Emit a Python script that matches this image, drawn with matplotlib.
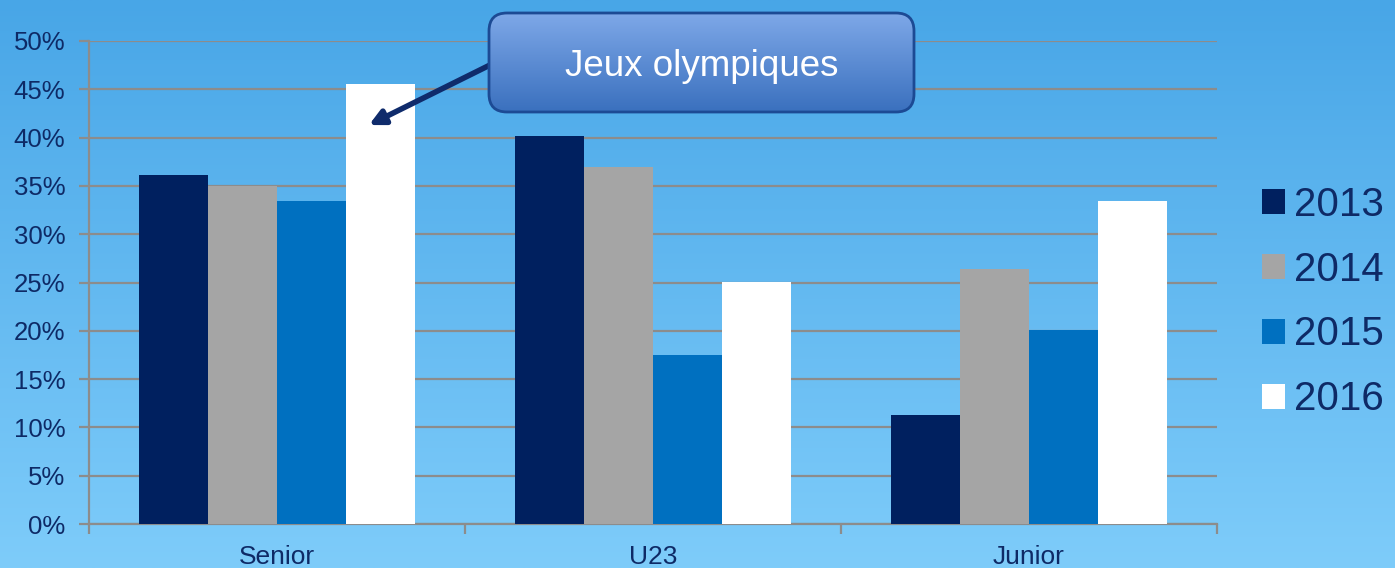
import matplotlib.pyplot as plt
import numpy as np
from matplotlib.patches import Patch, FancyBboxPatch

plt.rcParams['font.family'] = ['Liberation Sans', 'DejaVu Sans']

categories = ["Senior", "U23", "Junior"]
years = ["2013", "2014", "2015", "2016"]
values = {
    "2013": [36.1, 40.2, 11.3],
    "2014": [35.0, 37.0, 26.4],
    "2015": [33.4, 17.5, 20.1],
    "2016": [45.5, 25.1, 33.4],
}
colors = ["#00205F", "#A5A5A5", "#0070C0", "#FFFFFF"]
yticks = [0, 5, 10, 15, 20, 25, 30, 35, 40, 45, 50]
navy = "#0E2A66"
grid = "#8C8C8C"

W, H = 1395, 568
fig = plt.figure(figsize=(W / 100, H / 100), dpi=100)

# background gradient
bg = fig.add_axes([0, 0, 1, 1], zorder=-10)
top = np.array([72, 166, 231]) / 255
bot = np.array([126, 204, 250]) / 255
t = np.linspace(0, 1, 256)[:, None]
grad = top + (bot - top) * t
bg.imshow(grad[:, None, :].repeat(2, axis=1), aspect="auto", extent=[0, 1, 0, 1])
bg.axis("off")

ax = fig.add_axes([89 / W, 1 - 524 / H, (1217 - 89) / W, (524 - 41) / H])
ax.set_facecolor("none")

x = np.arange(len(categories))
bw = 0.183
for i, yr in enumerate(years):
    ax.bar(x + (i - 1.5) * bw, values[yr], bw, color=colors[i], zorder=3,
           label=yr, linewidth=0)

ax.set_xlim(-0.5, 2.5)
ax.set_ylim(0, 50)
ax.set_yticks(yticks)
ax.set_yticklabels([f"{v}%" for v in yticks], fontsize=18.5, color=navy)
ax.yaxis.grid(True, color=grid, linewidth=1.6, zorder=0)
ax.set_xticks([-0.5, 0.5, 1.5, 2.5])
ax.set_xticklabels([])
ax.set_xticks(x, minor=True)
ax.set_xticklabels(categories, minor=True, fontsize=19, color=navy)
ax.tick_params(axis="x", which="minor", length=0, pad=15)
ax.tick_params(axis="x", which="major", length=7, width=1.6, color=grid, direction="out")
ax.tick_params(axis="y", length=7, width=1.6, color=grid, pad=10)
for s in ["top", "right"]:
    ax.spines[s].set_visible(False)
for s in ["left", "bottom"]:
    ax.spines[s].set_color(grid)
    ax.spines[s].set_linewidth(1.6)

# legend
handles = [Patch(facecolor=c, edgecolor="none", label=y) for c, y in zip(colors, years)]
leg = fig.legend(handles=handles, loc="center left",
                 bbox_to_anchor=(1262 / W, 1 - 302 / H), frameon=False,
                 fontsize=29, handlelength=0.58, handleheight=0.58,
                 handletextpad=0.22, labelspacing=0.67, borderpad=0,
                 borderaxespad=0)
for txt in leg.get_texts():
    txt.set_color(navy)

# callout box
bx0, by0, bx1, by1 = 489, 13, 914, 112
box = FancyBboxPatch((bx0 / 100, (H - by1) / 100), (bx1 - bx0) / 100, (by1 - by0) / 100,
                     boxstyle="round,pad=0,rounding_size=0.18",
                     transform=fig.dpi_scale_trans, facecolor="none",
                     edgecolor="#1C4A94", linewidth=2, zorder=20)
bax = fig.add_axes([bx0 / W, 1 - by1 / H, (bx1 - bx0) / W, (by1 - by0) / H], zorder=19)
bax.axis("off")
btop = np.array([126, 168, 232]) / 255
bbot = np.array([58, 112, 190]) / 255
g2 = btop + (bbot - btop) * t
im = bax.imshow(g2[:, None, :].repeat(2, axis=1), aspect="auto", extent=[0, 1, 0, 1])
clip = FancyBboxPatch((bx0 / 100, (H - by1) / 100), (bx1 - bx0) / 100, (by1 - by0) / 100,
                      boxstyle="round,pad=0,rounding_size=0.18",
                      transform=fig.dpi_scale_trans)
im.set_clip_path(clip)
fig.patches.append(box)
fig.text((bx0 + bx1) / 2 / W, 1 - 66 / H, "Jeux olympiques", fontsize=26.5,
         color="white", ha="center", va="center", zorder=21)

# arrow
ax.annotate("", xy=(0 + 1.5 * bw - 0.03, 41.3), xycoords="data",
            xytext=(490 / W, 1 - 65 / H), textcoords="figure fraction",
            arrowprops=dict(arrowstyle="-|>,head_length=0.9,head_width=0.45",
                            color="#0F2B6B", linewidth=4, shrinkA=0, shrinkB=0),
            zorder=18, annotation_clip=False)

fig.savefig("out.png", dpi=100)
